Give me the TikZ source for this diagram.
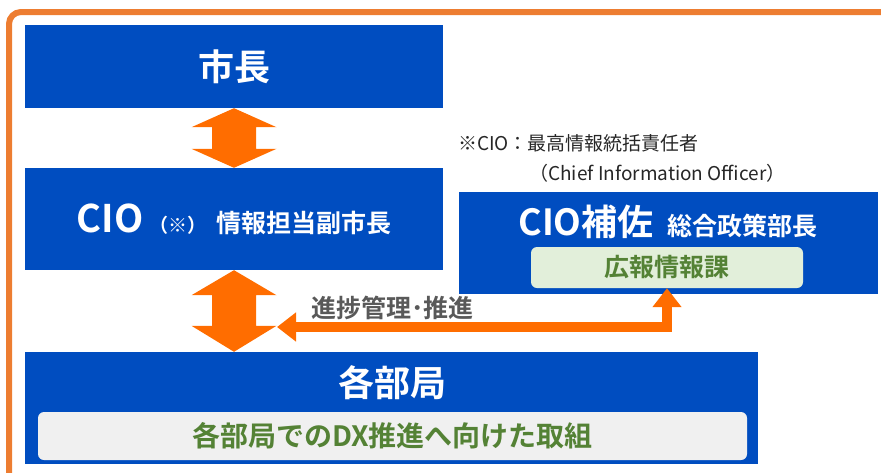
\documentclass[tikz,border=0pt]{standalone}
\usepackage{fontspec}
\setmainfont{Noto Sans CJK JP}[BoldFont={Noto Sans CJK JP Bold}]
\usetikzlibrary{arrows.meta,calc}
\definecolor{boxblue}{RGB}{0,77,192}
\definecolor{arrorange}{RGB}{255,109,0}
\definecolor{frameorange}{RGB}{237,125,49}
\definecolor{labelgray}{RGB}{89,89,89}
\definecolor{txtgreen}{RGB}{84,130,53}
\definecolor{lightgreen}{RGB}{226,239,218}
\definecolor{lightgray}{RGB}{240,240,240}
\tikzset{
  bluebox/.style={fill=boxblue, draw=none, text=white, font=\bfseries, inner sep=0pt, anchor=center},
  innerbox/.style={draw=none, rounded corners=6pt, inner sep=0pt, text=txtgreen, font=\bfseries},
  dblarrow/.style={fill=arrorange, draw=none},
}
\begin{document}
\begin{tikzpicture}[x=1pt,y=-1pt]
\useasboundingbox (0,0) rectangle (881,472);
\begin{scope}
\clip (0,0) rectangle (881,472);
\draw[frameorange, line width=6pt, rounded corners=12pt] (9,12) rectangle (930,520);
\end{scope}

% boxes
\node[bluebox, minimum width=418pt, minimum height=83pt] (mayor) at (234,66.5) {\fontsize{36}{40}\selectfont 市長};
\node[bluebox, minimum width=418pt, minimum height=102pt] (cio) at (234,219)
  {\fontsize{38}{42}\selectfont CIO\hspace{6pt}\fontsize{19}{22}\selectfont （※）\hspace{10pt}\fontsize{25}{28}\selectfont 情報担当副市長};
\node[bluebox, minimum width=733pt, minimum height=112pt] (dept) at (391.5,408) {};
\node[text=white, font=\bfseries\fontsize{36}{40}\selectfont, inner sep=0pt] (depttitle) at (392,383) {各部局};
\node[innerbox, fill=lightgray, minimum width=709pt, minimum height=48pt, font=\bfseries\fontsize{28}{32}\selectfont] (deptinner) at (392.5,436) {各部局でのDX推進へ向けた取組};

\node[bluebox, minimum width=419pt, minimum height=102pt] (assist) at (668.5,243) {};
\node[text=white, font=\bfseries, inner sep=0pt] (assisttitle) at (668,222)
  {\fontsize{36}{40}\selectfont CIO補佐\hspace{14pt}\fontsize{25}{28}\selectfont 総合政策部長};
\node[innerbox, fill=lightgreen, minimum width=272pt, minimum height=41pt, font=\bfseries\fontsize{25}{28}\selectfont] (kouhou) at (667,267.5) {広報情報課};

% note
\node[anchor=west, inner sep=0pt, font=\fontsize{19}{22}\selectfont, text=black!85] (note1) at (458,143) {※CIO：最高情報統括責任者};
\node[anchor=west, inner sep=0pt, font=\fontsize{19}{22}\selectfont, text=black!85] (note2) at (529,173) {（Chief Information Officer）};

% double arrows
\fill[dblarrow] let \p1=(mayor.south), \p2=(cio.north) in
  (\x1,\y1) -- (\x1+42.5,\y1-19) -- (\x1+22,\y1-19) -- (\x1+22,\y2+19) -- (\x1+42.5,\y2+19)
  -- (\x2,\y2) -- (\x1-42.5,\y2+19) -- (\x1-22,\y2+19) -- (\x1-22,\y1-19) -- (\x1-42.5,\y1-19) -- cycle;
\fill[dblarrow] let \p1=(cio.south), \p2=(dept.north -| cio.south) in
  (\x1,\y1) -- (\x1+42.5,\y1-25) -- (\x1+22,\y1-25) -- (\x1+22,\y2+26) -- (\x1+42.5,\y2+26)
  -- (\x2,\y2) -- (\x1-42.5,\y2+26) -- (\x1-22,\y2+26) -- (\x1-22,\y1-25) -- (\x1-42.5,\y1-25) -- cycle;

% progress arrow
\coordinate (lefttip) at (277,327);
\draw[arrorange, line width=10pt, miter limit=10,
  {Triangle[length=19pt,width=28pt]}-{Triangle[length=19pt,width=28pt]}]
  (lefttip) -| (kouhou.south);
\node[anchor=west, inner sep=0pt, text=labelgray, font=\bfseries\fontsize{25}{28}\selectfont] (proglabel) at (311,308) {進捗管理･推進};
\end{tikzpicture}
\end{document}
